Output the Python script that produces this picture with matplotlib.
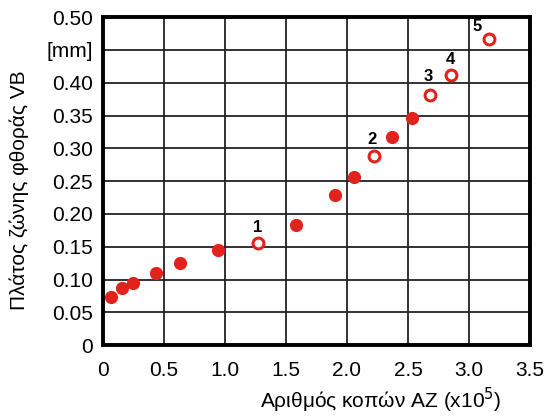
import numpy as np
import matplotlib.pyplot as plt

plt.rcParams['font.family'] = ['Liberation Sans', 'DejaVu Sans']

# filled points (measured wear)
full_x = [0.067, 0.16, 0.248, 0.438, 0.635, 0.944, 1.58, 1.90, 2.06, 2.37, 2.53]
full_y = [0.074, 0.087, 0.095, 0.110, 0.125, 0.145, 0.183, 0.229, 0.257, 0.318, 0.346]

# open points, numbered 1..5
open_x = [1.27, 2.22, 2.68, 2.85, 3.16]
open_y = [0.156, 0.288, 0.381, 0.411, 0.466]
open_labels = ['1', '2', '3', '4', '5']

x_ticks = [0, 0.5, 1.0, 1.5, 2.0, 2.5, 3.0, 3.5]
x_ticklabels = ['0', '0.5', '1.0', '1.5', '2.0', '2.5', '3.0', '3.5']
y_ticks = [0, 0.05, 0.10, 0.15, 0.20, 0.25, 0.30, 0.35, 0.40, 0.45, 0.50]
y_ticklabels = ['0', '0.05', '0.10', '0.15', '0.20', '0.25', '0.30', '0.35',
                '0.40', '[mm]', '0.50']

red = '#e0231c'

fig = plt.figure(figsize=(5.46, 4.16), dpi=100)
ax = fig.add_axes([0.188, 0.17, 0.783, 0.789])

ax.plot(full_x, full_y, 'o', color=red, markersize=9.5, markeredgewidth=0, zorder=3)
ax.plot(open_x, open_y, 'o', markerfacecolor='white', markeredgecolor=red,
        markersize=7.8, markeredgewidth=2.2, zorder=3)

# number labels next to the open points
offsets = [(0, 6), (-1, 7), (-1, 8), (0, 6), (-8, 4)]
for x, y, lab, off in zip(open_x, open_y, open_labels, offsets):
    ax.annotate(lab, (x, y), xytext=off, textcoords='offset points',
                ha='center', va='bottom', fontsize=12, fontweight='bold')

ax.set_xlim(0, 3.5)
ax.set_ylim(0, 0.5)
ax.set_xticks(x_ticks)
ax.set_xticklabels(x_ticklabels)
ax.set_yticks(y_ticks)
ax.set_yticklabels(y_ticklabels)
ax.tick_params(length=0, labelsize=15)
ax.tick_params(axis='x', pad=11)
ax.tick_params(axis='y', pad=7)
ax.grid(True, color='#222222', linewidth=1.3)
ax.set_axisbelow(True)
for s in ax.spines.values():
    s.set_linewidth(2.8)

ax.set_xlabel('Αριθμός κοπών AZ (x10$^5$)', fontsize=15)
ax.xaxis.set_label_coords(0.65, -0.122)
ax.set_ylabel('Πλάτος ζώνης φθοράς VB', fontsize=15)
ax.yaxis.set_label_coords(-0.172, 0.474)

fig.savefig('out.png', dpi=100)
